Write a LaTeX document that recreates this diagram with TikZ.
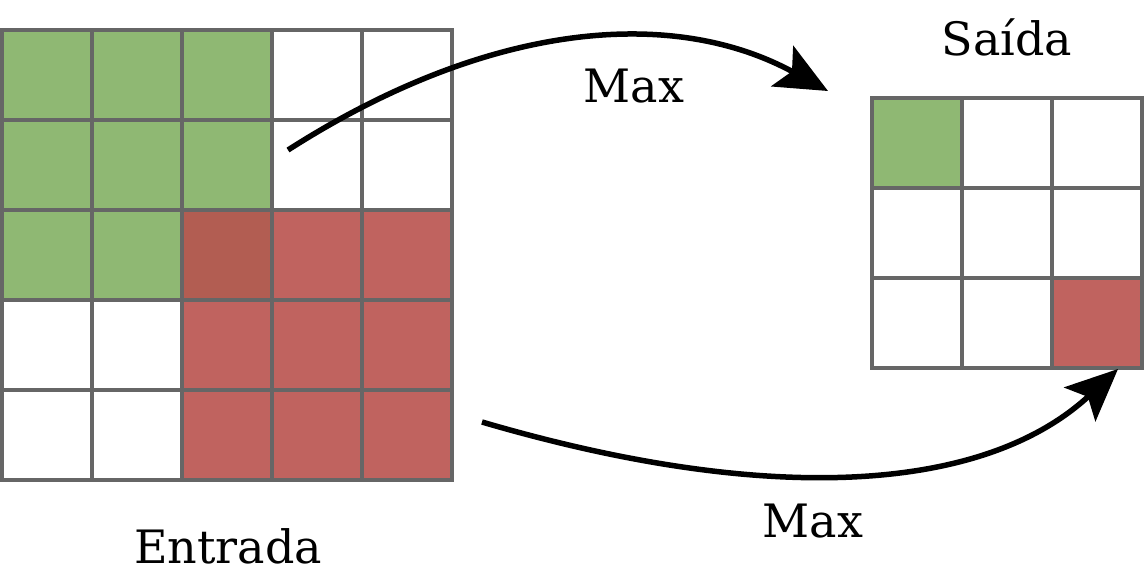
\documentclass[tikz,border=0pt]{standalone}
\usepackage{fontspec}
\setmainfont{DejaVu Serif}
\usepackage{tikz}
\usetikzlibrary{arrows.meta}
\definecolor{poolgreen}{HTML}{8FB873}
\definecolor{poolred}{HTML}{C0635F}
\definecolor{poolboth}{HTML}{B25D52}
\definecolor{gridgray}{HTML}{666666}
\tikzset{
  arr/.style={-{Stealth[length=52pt, width=46pt, inset=11pt]}, line width=5.5pt},
  cell/.style={draw=gridgray, line width=4pt, minimum size=90pt,
               inner sep=0pt, outer sep=0pt},
  lbl/.style={font=\fontsize{46}{54}\selectfont, inner sep=0pt, anchor=base},
}

\begin{document}
\begin{tikzpicture}[x=1pt, y=-1pt]
\useasboundingbox (0,0) rectangle (1146,582);

\foreach \r in {0,...,4} {
  \foreach \c in {0,...,4} {
    \def\cellfill{white}
    \ifnum\r<3 \ifnum\c<3 \def\cellfill{poolgreen}\fi\fi
    \ifnum\r>1 \ifnum\c>1 \def\cellfill{poolred}\fi\fi
    \ifnum\r=2 \ifnum\c=2 \def\cellfill{poolboth}\fi\fi
    \node[cell, fill=\cellfill] (in-\r-\c) at (46.7+90*\c, 75+90*\r) {};
  }
}

\foreach \r in {0,...,2} {
  \foreach \c in {0,...,2} {
    \def\cellfill{white}
    \ifnum\r=0 \ifnum\c=0 \def\cellfill{poolgreen}\fi\fi
    \ifnum\r=2 \ifnum\c=2 \def\cellfill{poolred}\fi\fi
    \node[cell, fill=\cellfill] (out-\r-\c) at (916.7+90*\c, 143+90*\r) {};
  }
}

\node[lbl] (entrada) at (228, 563) {Entrada};
\node[lbl] (saida)   at (1007, 55) {Saída};
\node[lbl] (maxtop)  at (634, 102) {Max};
\node[lbl] (maxbot)  at (813, 537) {Max};

\coordinate (greenfrom) at (288, 150);
\coordinate (greento)   at (828, 91);
\coordinate (redfrom)   at (482, 422);
\coordinate (redto)     at (1118, 369);

\draw[arr] (greenfrom) .. controls (488, 22) and (672, 6) .. (greento);
\draw[arr] (redfrom) .. controls (772, 507) and (985, 492) .. (redto);
\end{tikzpicture}
\end{document}
